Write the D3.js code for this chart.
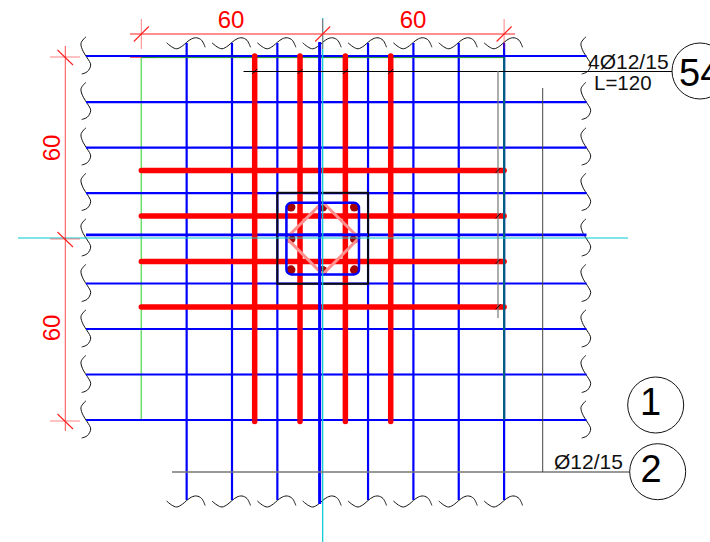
<!DOCTYPE html>
<html><head><meta charset="utf-8">
<script src="https://cdn.jsdelivr.net/npm/d3@7"></script>
<style>html,body{margin:0;padding:0;background:#fff;overflow:hidden}svg{display:block}text{font-family:"Liberation Sans",Arial,sans-serif}</style>
</head><body><svg id="c" width="710" height="542"></svg>
<script>
// Drawing values, in centimetres from the column centre
const blueColumns = [-45,-30,-15,-1,15,30,45,60];
const blueRows = [-60,-44.8,-29.8,-14.8,-1,15,30,45,60];
const breakRows = [-60,-45,-30,-15,0,15,30,45,60];
const redColumns = [-22.5,-7.5,7.5,22.5];
const redRows = [-22.5,-7.5,7.5,22.5];
const breakColumns = [-45,-30,-15,0,15,30,45,60];
const dimTicksX = [-60,0,60];
const dimTicksY = [-60,0,60];
const dimLabels = ["60","60"];
const columnBars = [[-10.5,-10.2],[0,-10.2],[10.5,-10.2],[-10.5,0.3],[10.5,0.3],[-10.5,10.5],[0,10.7],[10.5,10.5]];
const bubbleLabels = ["54","1","2"];
const barLabels = ["4Ø12/15","L=120","Ø12/15"];

const svg = d3.select("#c");
const x = d3.scaleLinear().domain([-60,60]).range([141.3,504.1]);
const y = d3.scaleLinear().domain([-60,60]).range([56,420]);

const BLUE="#0000ff", RED="#ff0000", CYAN="#00c8d2", DIM="#ff2020";
const ln=(g,x1,y1,x2,y2,c,w,o={})=>g.append("line").attr("x1",x1).attr("y1",y1).attr("x2",x2).attr("y2",y2)
  .attr("stroke",c).attr("stroke-width",w).attr("stroke-linecap",o.cap||"butt").attr("opacity",o.op??1);
const txt=(s,px,py,size,fill,anchor="start",rot)=>{const t=svg.append("text").text(s).attr("font-size",size).attr("fill",fill).attr("text-anchor",anchor);
  if(rot!=null)t.attr("transform",`translate(${px},${py}) rotate(${rot})`);else t.attr("x",px).attr("y",py);return t;};

// break squiggles
const wave=d3.line().curve(d3.curveCatmullRom);
const hShape=[[-20,0.5],[-15,4.5],[-10,6.5],[-4,3.5],[0,0],[5,-3.5],[10,-4.5],[15,-2],[18.5,5]];
const vShape=[[0,-19.3],[-5,-12.7],[-2.7,-4.3],[1.3,2],[4.7,9],[1.3,15.7],[-4.3,18]];
const br=svg.append("g").attr("fill","none").attr("stroke","#111").attr("stroke-width",1);
breakColumns.forEach(c=>{[42.3,500.5].forEach(by=>{
  br.append("path").attr("d",wave(hShape.map(p=>[x(c)+p[0],by+p[1]])));});});
breakRows.forEach(r=>{[86,586].forEach(bx=>{
  br.append("path").attr("d",wave(vShape.map(p=>[bx+p[0],y(r)+p[1]])));});});

// thin construction lines under the bars
const base=svg.append("g");
ln(base,x(-60),y(-60)+1,x(-60),y(60),"#6fdc6f",1.5);
ln(base,130,y(-60)+1.5,155,y(-60)+1.5,"#ff6060",1);

// blue grid
const blue=svg.append("g");
blue.selectAll(".bh").data(blueRows).join("line").attr("x1",86).attr("x2",586.5).attr("y1",d=>y(d)).attr("y2",d=>y(d))
  .attr("stroke",BLUE).attr("stroke-width",d=>d===-1?2.8:2.2);
blue.selectAll(".bv").data(blueColumns).join("line").attr("x1",d=>x(d)).attr("x2",d=>x(d)).attr("y1",43).attr("y2",500)
  .attr("stroke",BLUE).attr("stroke-width",2.2);
ln(svg,x(-60),y(-60)+1.6,x(60),y(-60)+1.6,"#1a9a1a",1);

// red bars
const red=svg.append("g");
red.selectAll(".rv").data(redColumns).join("line").attr("x1",d=>x(d)).attr("x2",d=>x(d)).attr("y1",y(-60)).attr("y2",y(60.5))
  .attr("stroke",RED).attr("stroke-width",5.5).attr("stroke-linecap","round");
const veil=svg.append("g");
veil.selectAll("line").data(blueRows.slice(1)).join("line").attr("x1",x(-30)).attr("x2",x(30)).attr("y1",d=>y(d)).attr("y2",d=>y(d))
  .attr("stroke",BLUE).attr("stroke-width",2.2).attr("opacity",.18);
const red2=svg.append("g");
red2.selectAll(".rh").data(redRows).join("line").attr("x1",x(-60)).attr("x2",x(60)).attr("y1",d=>y(d)+.7).attr("y2",d=>y(d)+.7)
  .attr("stroke",RED).attr("stroke-width",5.5).attr("stroke-linecap","round");
ln(svg,x(60),y(-60)+1,x(60),y(60),"#005f80",2.2);

// column section
const col=svg.append("g");
col.append("rect").attr("x",x(-15)).attr("y",y(-15)+.3).attr("width",x(15)-x(-15)).attr("height",y(15)-y(-15)).attr("fill","none").attr("stroke","#0a0a14").attr("stroke-width",2);
col.selectAll("circle").data(columnBars).join("circle").attr("cx",d=>x(d[0])).attr("cy",d=>y(d[1])).attr("r",4.5).attr("fill","#a80000");
col.append("path").attr("d",d3.line()([[x(0),y(-11.8)],[x(12),y(0)],[x(0),y(12)],[x(-12),y(0)]])+"Z").attr("fill","none").attr("stroke","#ff9090").attr("stroke-width",3);
col.append("rect").attr("x",x(-12)).attr("y",y(-11.6)).attr("width",x(12)-x(-12)).attr("height",y(12)-y(-11.6)).attr("rx",5).attr("fill","none").attr("stroke",BLUE).attr("stroke-width",2.5);
ln(col,x(-1),42,x(-1),504,BLUE,3);
ln(col,x(-15),y(-1),x(15),y(-1),BLUE,2.8);

// centre lines
const cl=svg.append("g");
ln(cl,x(0),18,x(0),542,CYAN,1.2);
ln(cl,18,y(0),628,y(0),CYAN,1.2);

// dimension lines
const dim=svg.append("g");
ln(dim,130,34,515,34,DIM,1);
ln(dim,65.3,46,65.3,431,DIM,1,{op:.8});
dimTicksX.forEach(d=>{
  ln(dim,x(d),19,x(d),49,DIM,1,{op:.55});
  ln(dim,x(d)-7.5,41.5,x(d)+7.5,26.5,DIM,1.1);
});
dimTicksY.forEach(d=>{
  ln(dim,50,y(d)+1,80,y(d)+1,DIM,1,{op:.55});
  ln(dim,57.5,y(d)-6,73,y(d)+9,DIM,1.1);
});
txt(dimLabels[0],231,28,24,RED,"middle");
txt(dimLabels[1],413,28,24,RED,"middle");
txt(dimLabels[0],59.5,148,24,RED,"middle",-90);
txt(dimLabels[1],59.5,328,24,RED,"middle",-90);

// leaders
const lead=svg.append("g");
ln(lead,243.5,71.5,672,71.5,"#000",1);
ln(lead,172,472,630,472,"#777",1.4);
ln(lead,542.7,88,542.7,472,"#444",1);
ln(lead,498,71,498,318,"#777",1.2);
redColumns.forEach(d=>ln(lead,x(d)-2.5,74,x(d)+2.5,69,"#000",.9));
redRows.forEach(d=>ln(lead,495.5,y(d)+3.2,500.5,y(d)-1.8,"#000",.9));

// labels and bubbles
txt(barLabels[0],588,68.7,21,"#111");
txt(barLabels[1],594,90,20.5,"#111");
txt(barLabels[2],554,468.7,21,"#111");
const bubbles=[[700,71],[655.7,405],[657.7,471.7]];
const bubbleText=[[679,86,"start"],[650.5,415,"middle"],[651,482.3,"middle"]];
bubbleLabels.forEach((s,i)=>{
  svg.append("circle").attr("cx",bubbles[i][0]).attr("cy",bubbles[i][1]).attr("r",28).attr("fill","#fff").attr("stroke","#111").attr("stroke-width",1);
  txt(s,bubbleText[i][0],bubbleText[i][1],38,"#000",bubbleText[i][2]);
});
</script></body></html>
